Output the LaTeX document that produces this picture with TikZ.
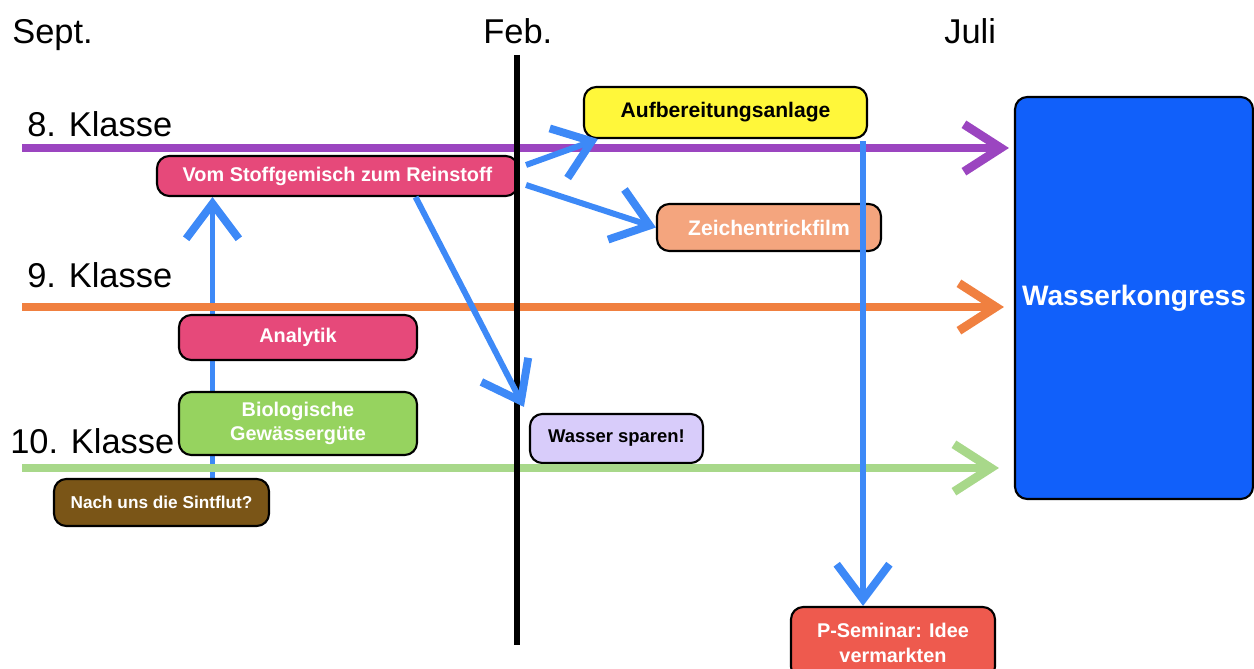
\documentclass[tikz,border=0pt]{standalone}
\usepackage{fontspec}
\setmainfont{Liberation Sans}
\usetikzlibrary{arrows.meta,calc,positioning}
\pgfdeclarelayer{background}
\pgfsetlayers{background,main}
\definecolor{klasse8}{RGB}{155,69,192}
\definecolor{klasse9}{RGB}{240,128,64}
\definecolor{klasse10}{RGB}{168,216,138}
\definecolor{pfeilblau}{RGB}{61,137,247}
\definecolor{rosa}{RGB}{230,73,122}
\definecolor{gelb}{RGB}{255,247,58}
\definecolor{lachs}{RGB}{244,165,126}
\definecolor{gruen}{RGB}{150,211,95}
\definecolor{braun}{RGB}{122,85,23}
\definecolor{lila}{RGB}{216,204,250}
\definecolor{rot}{RGB}{238,90,78}
\definecolor{kongress}{RGB}{17,96,250}
\def\px{0.02cm}
\tikzset{
     projekt/.style={fill=#1, draw=black, line width=1.2pt, rounded corners=7pt,
       text=white, align=center, inner sep=0pt,
       font=\fontsize{11.3}{13.8}\selectfont\bfseries},
     projektdunkel/.style={projekt=#1, text=black},
     monat/.style={anchor=base west, inner sep=0pt, font=\fontsize{19.6}{24}\selectfont},
     klasse/.style={monat},
     zeitstrahl/.style={draw=#1, line width=4.8pt, -{Straight Barb[length=21pt,width=27pt,line width=5pt]}},
     pfeil/.style={draw=pfeilblau, line width=3.4pt, -{Straight Barb[length=20pt,width=30pt,line width=4.5pt]}},
     trennlinie/.style={draw=black, line width=3.6pt},
}

\begin{document}
\begin{tikzpicture}[x=\px, y=-\px]
  \useasboundingbox (0,0) rectangle (1254,669);

  % Monate
  \node[monat] (sept) at (12,44) {Sept.};
  \node[monat] (feb) at (483,44) {Feb.};
  \node[monat] (juli) at (944,44) {Juli};

  % Klassen
  \node[klasse] (l8) at (27,136) {8. Klasse};
  \node[klasse] (l9) at (27,287) {9. Klasse};
  \node[klasse] (l10) at (10,453) {10. Klasse};

  % Projekte
  \node[projekt=kongress, minimum width=238*\px, minimum height=402*\px,
    font=\fontsize{16}{19}\selectfont\bfseries] (wk) at (1134,298) {\raisebox{-2pt}{Wasserkongress}};
  \node[projekt=rosa, minimum width=361*\px, minimum height=40*\px] (vom) at (337.5,176) {Vom Stoffgemisch zum Reinstoff};
  \node[projektdunkel=gelb, minimum width=283*\px, minimum height=51*\px,
    font=\fontsize{12}{14}\selectfont\bfseries] (aufb) at (725.5,112.5) {Aufbereitungsanlage};
  \node[projekt=lachs, minimum width=224*\px, minimum height=47*\px,
    font=\fontsize{12}{14}\selectfont\bfseries] (zeichen) at (769,227.5) {Zeichentrickfilm};
  \node[projekt=rosa, minimum width=238*\px, minimum height=45*\px] (analytik) at (298,337.5) {Analytik};
  \node[projekt=gruen, minimum width=238*\px, minimum height=63*\px] (bio) at (298,423.5) {Biologische\\Gewässergüte};
  \node[projekt=braun, minimum width=215*\px, minimum height=47*\px,
    font=\fontsize{9.8}{12}\selectfont\bfseries] (nach) at (161.5,502.5) {Nach uns die Sintflut?};
  \node[projektdunkel=lila, minimum width=173*\px, minimum height=49*\px,
    font=\fontsize{10.5}{13}\selectfont\bfseries] (wasser) at (616.5,438.5) {Wasser sparen!};
  \node[projekt=rot, minimum width=204*\px, minimum height=72*\px] (pseminar) at (893,643) {P-Seminar: Idee\\vermarkten};

  % Zeitstrahlen
  \coordinate (k8) at (22,148);
  \coordinate (k9) at (22,307);
  \coordinate (k10) at (22,468);
  \draw[zeitstrahl=klasse8, shorten >=0.1cm] (k8) -- (k8 -| wk.west);
  \draw[zeitstrahl=klasse9, shorten >=0.2cm] (k9) -- (k9 -| wk.west);
  \draw[zeitstrahl=klasse10, shorten >=0.3cm] (k10) -- (k10 -| wk.west);

  % Halbjahr
  \coordinate (bartop) at (517,55);
  \coordinate (barbot) at (517,645);
  \draw[trennlinie] (bartop) -- (barbot);

  % Verbindungen
  \begin{pgfonlayer}{background}
  \draw[pfeil] ($(nach.north)+(51,0)$) coordinate (a1) -- (a1 |- vom.south);
  \end{pgfonlayer}
  \draw[pfeil] ($(vom.south west)!0.715!(vom.south east)$) -- ([shift={(-5,-6)}]wasser.north west);
  \draw[pfeil] ([shift={(7,-11)}]vom.east) -- ([shift={(15,0)}]aufb.south west);
  \draw[pfeil] ([shift={(7,9)}]vom.east) -- (zeichen.west);
  \draw[pfeil] ([shift={(-5,2)}]aufb.south east) coordinate (a5) -- (a5 |- pseminar.north);

\end{tikzpicture}
\end{document}
